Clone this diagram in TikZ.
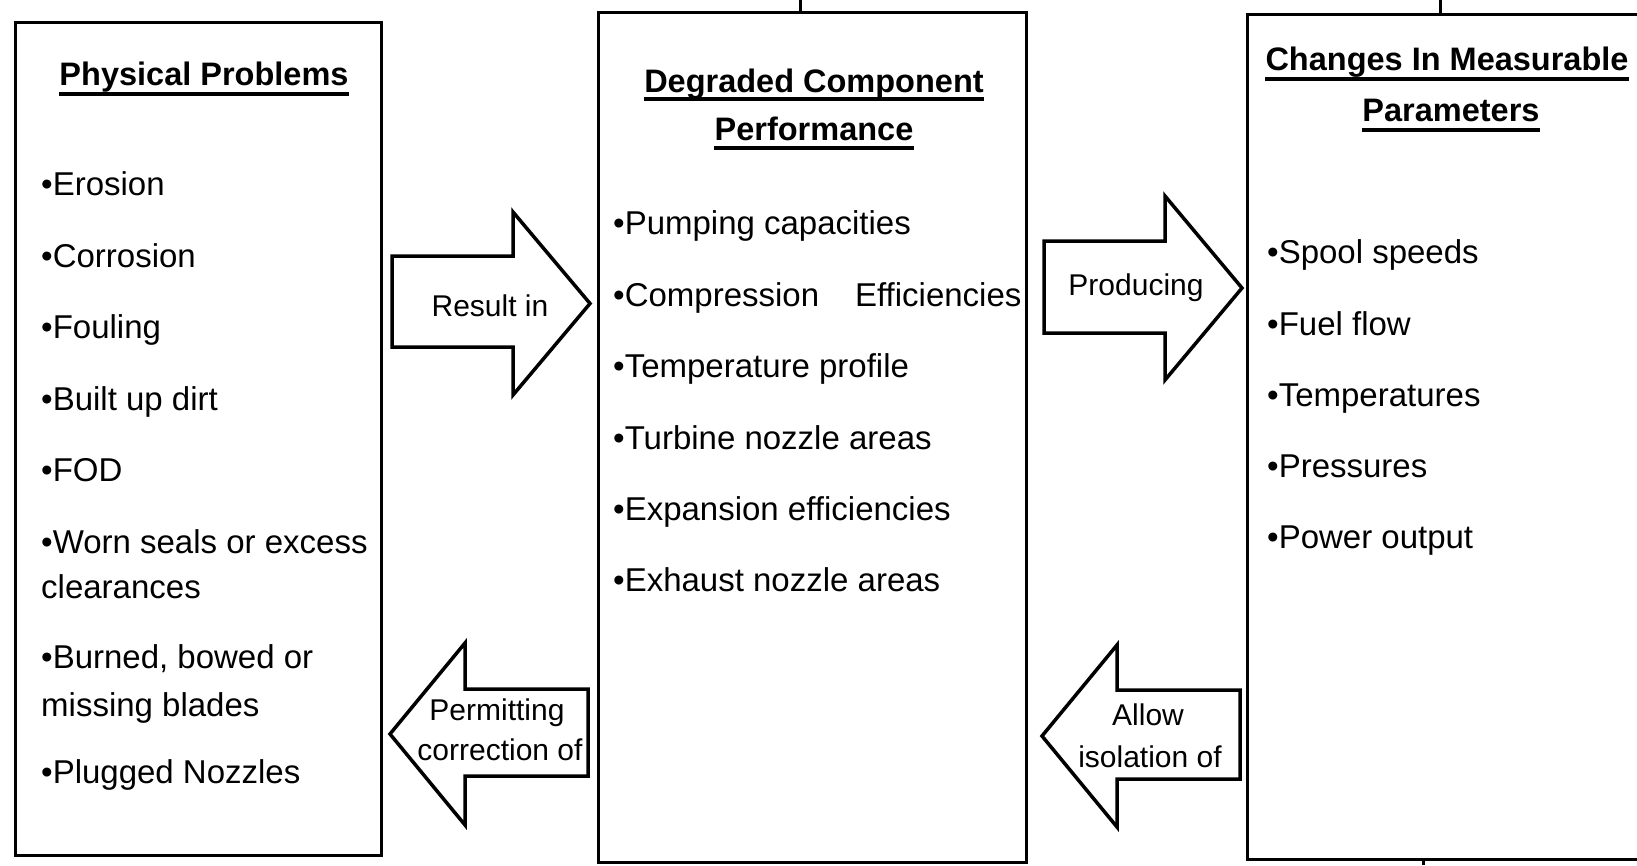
\documentclass[tikz,border=0pt]{standalone}
\usepackage{fontspec}
\setmainfont{Liberation Sans}
\begin{document}
\begin{tikzpicture}[x=1pt,y=-1pt,
  box/.style={draw, line width=3pt, inner sep=0pt},
  bigarrow/.style={draw, line width=3.5pt, line join=miter, fill=white},
  item/.style={anchor=base west, inner sep=0pt, font=\fontsize{33}{39}\selectfont},
  title/.style={anchor=base, inner sep=0pt, font=\bfseries\fontsize{32.5}{38}\selectfont},
  lab/.style={anchor=base, inner sep=0pt, font=\fontsize{30}{34}\selectfont},
  uline/.style={line width=3.5pt},
  tick/.style={line width=3pt}]
\useasboundingbox (0,0) rectangle (1637,865);

% boxes
\node[box, minimum width=366pt, minimum height=833pt] (pp) at (198,438.5) {};
\node[box, minimum width=428pt, minimum height=850pt] (dc) at (812,437) {};
\node[box, minimum width=403pt, minimum height=845pt] (cm) at (1448.5,436.5) {};

% small ticks
\coordinate (t1) at (800,0);
\coordinate (t2) at (1440,0);
\coordinate (t3) at (1423,865);
\draw[tick] (t1) -- (dc.north -| t1);
\draw[tick] (t2) -- (cm.north -| t2);
\draw[tick] (t3) -- (cm.south -| t3);

% titles
\node[title] (pt) at (204,85) {Physical Problems};
\draw[uline] ([yshift=-9pt]pt.base west) -- ([yshift=-9pt]pt.base east);
\node[title] (dt1) at (814,92) {Degraded Component};
\draw[uline] ([yshift=-7pt]dt1.base west) -- ([yshift=-7pt]dt1.base east);
\node[title] (dt2) at (814,140) {Performance};
\draw[uline] ([yshift=-8pt]dt2.base west) -- ([yshift=-8pt]dt2.base east);
\node[title] (ct1) at (1447,70) {Changes In Measurable};
\draw[uline] ([yshift=-9pt]ct1.base west) -- ([yshift=-9pt]ct1.base east);
\node[title] (ct2) at (1451,121) {Parameters};
\draw[uline] ([yshift=-9pt]ct2.base west) -- ([yshift=-9pt]ct2.base east);

% left items
\node[item] (l1) at (41,195) {•Erosion};
\node[item] (l2) at (41,267) {•Corrosion};
\node[item] (l3) at (41,338) {•Fouling};
\node[item] (l4) at (41,410) {•Built up dirt};
\node[item] (l5) at (41,481) {•FOD};
\node[item] (l6) at (41,553) {•Worn seals or excess};
\node[item] (l6b) at (41,598) {clearances};
\node[item] (l7) at (41,668) {•Burned, bowed or};
\node[item] (l7b) at (41,716) {missing blades};
\node[item] (l8) at (41,783) {•Plugged Nozzles};

% middle items
\node[item] (m1) at (613,234) {•Pumping capacities};
\node[item] (m2) at (613,306) {•Compression\hspace{36pt}Efficiencies};
\node[item] (m3) at (613,377) {•Temperature profile};
\node[item] (m4) at (613,449) {•Turbine nozzle areas};
\node[item] (m5) at (613,520) {•Expansion efficiencies};
\node[item] (m6) at (613,591) {•Exhaust nozzle areas};

% right items
\node[item] (r1) at (1267,263) {•Spool speeds};
\node[item] (r2) at (1267,335) {•Fuel flow};
\node[item] (r3) at (1267,406) {•Temperatures};
\node[item] (r4) at (1267,477) {•Pressures};
\node[item] (r5) at (1267,548) {•Power output};

% block arrows
\draw[bigarrow] (392,256) -- (513,256) -- (513,212) -- (590,303.5) -- (513,395) -- (513,347) -- (392,347) -- cycle;
\node[lab] (a1) at (490,316) {Result in};

\draw[bigarrow] (1044,241) -- (1165,241) -- (1165,196) -- (1242,288) -- (1165,380) -- (1165,333) -- (1044,333) -- cycle;
\node[lab] (a2) at (1136,295) {Producing};

\draw[bigarrow] (588,689) -- (465,689) -- (465,643) -- (390,734) -- (465,825) -- (465,776) -- (588,776) -- cycle;
\node[lab] (a3a) at (497,720) {Permitting};
\node[lab] (a3b) at (500,760) {correction of};

\draw[bigarrow] (1240,690) -- (1117,690) -- (1117,645) -- (1042,736) -- (1117,827) -- (1117,779) -- (1240,779) -- cycle;
\node[lab] (a4a) at (1148,725) {Allow};
\node[lab] (a4b) at (1150,767) {isolation of};
\end{tikzpicture}
\end{document}
